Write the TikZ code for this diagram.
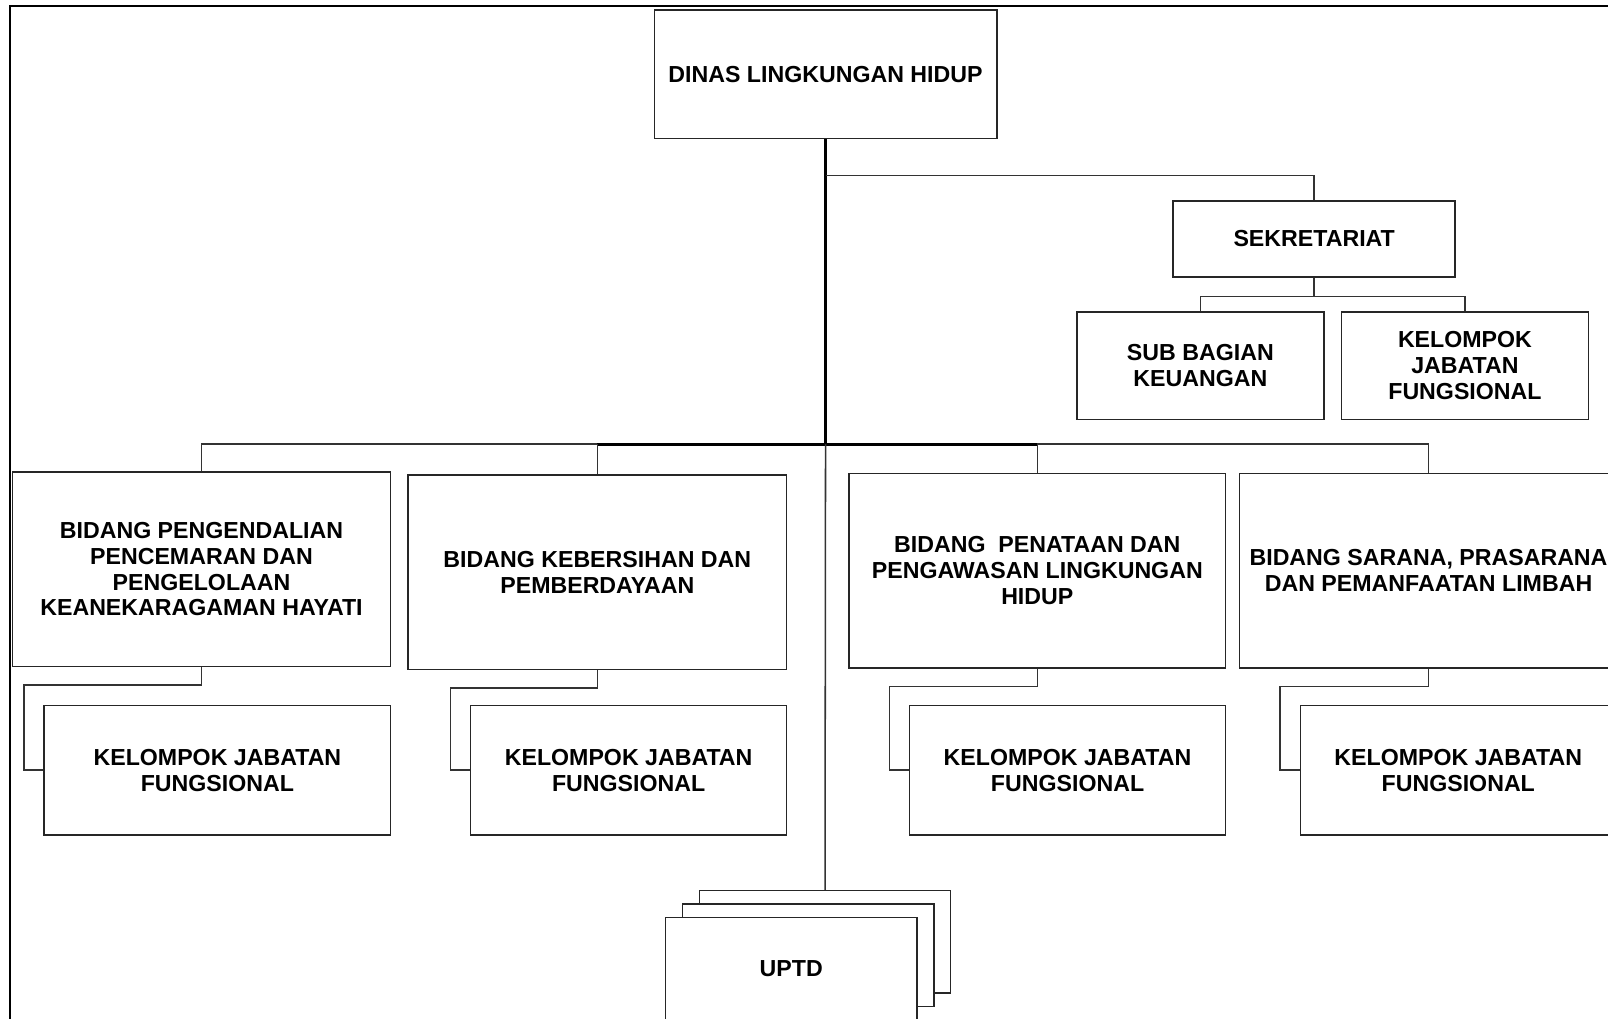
\documentclass[tikz,border=0pt]{standalone}
\usepackage{fontspec}
\setmainfont{Liberation Sans}
\usetikzlibrary{positioning,calc}

\begin{document}
\begin{tikzpicture}[
  x=0.5pt, y=-0.5pt,
  font=\fontsize{11.3}{12.6}\selectfont\bfseries,
  box/.style={draw=black!85, line width=0.75pt, fill=white, align=center, inner sep=2pt},
  bidang/.style={box, minimum width=184.5pt, minimum height=95pt},
  kjf/.style={box, minimum width=154pt, minimum height=63pt},
  uptd/.style={box, minimum width=122.5pt, minimum height=50pt},
  conn/.style={black!80, line width=0.75pt},
  trunk/.style={black, line width=1.5pt},
  frame/.style={black, line width=1.2pt},
]
\useasboundingbox (0,0) rectangle (1568,993);
\clip (0,0) rectangle (1568,993);
\draw[frame] (10,6) rectangle (1600,1020);

% top levels
\node[box, minimum width=167pt, minimum height=62.5pt] (dinas) at (805,72.5) {DINAS LINGKUNGAN HIDUP};
\node[box, minimum width=137.5pt, minimum height=37pt] (sek) at (1281.5,233) {SEKRETARIAT};
\node[box, minimum width=120.5pt, minimum height=52.5pt] (sub) at (1170.5,356.5) {SUB BAGIAN\\KEUANGAN};
\node[box, minimum width=120.5pt, minimum height=52.5pt] (kjf0) at (1428.5,356.5) {KELOMPOK\\JABATAN\\FUNGSIONAL};

% bidang
\node[bidang] (b1) at (196.5,555) {BIDANG PENGENDALIAN\\PENCEMARAN DAN\\PENGELOLAAN\\KEANEKARAGAMAN HAYATI};
\node[bidang] (b2) at (582.5,558) {BIDANG KEBERSIHAN DAN\\PEMBERDAYAAN};
\node[bidang, minimum width=183.5pt] (b3) at (1011.5,556.5) {BIDANG\ \ PENATAAN DAN\\PENGAWASAN LINGKUNGAN\\HIDUP};
\node[bidang] (b4) at (1393,556.5) {BIDANG SARANA, PRASARANA\\DAN PEMANFAATAN LIMBAH};

\node[kjf, minimum width=169pt] (k1) at (212,751) {KELOMPOK JABATAN\\FUNGSIONAL};
\node[kjf] (k2) at (613,751) {KELOMPOK JABATAN\\FUNGSIONAL};
\node[kjf] (k3) at (1041,751) {KELOMPOK JABATAN\\FUNGSIONAL};
\node[kjf] (k4) at (1422,751) {KELOMPOK JABATAN\\FUNGSIONAL};

% uptd stack
\node[uptd] (uptd3) at (804.5,918.5) {};
\node[uptd] (uptd2) at ([xshift=-8.25pt,yshift=-6.5pt]uptd3.center) {};
\node[uptd] (uptd1) at ([xshift=-8.25pt,yshift=-6.5pt]uptd2.center) {UPTD};

% lines
\coordinate (sekbus) at (805,171);
\coordinate (bus) at (805,433);
\coordinate (subbus) at (1281.5,289);
\draw[trunk] (dinas.south) -- (bus);
\draw[conn] (sekbus) -| (sek.north);
\draw[conn] (sek.south) -- (subbus);
\draw[conn] (subbus) -| (sub.north);
\draw[conn] (subbus) -| (kjf0.north);
\draw[conn] (bus) -| (b1.north);
\draw[conn] (bus) -| (b4.north);
\draw[trunk] (b2.north |- bus) -- (b3.north |- bus);
\draw[conn] (b2.north |- bus) -- (b2.north);
\draw[conn] (b3.north |- bus) -- (b3.north);
\draw[conn] (bus) -- (uptd3.north);
\foreach \b/\k in {b1/k1, b2/k2, b3/k3, b4/k4}
  \draw[conn] (\b.south) -- ++(0,17) -| ([xshift=-9.5pt]\k.west) -- (\k.west);
\end{tikzpicture}
\end{document}
